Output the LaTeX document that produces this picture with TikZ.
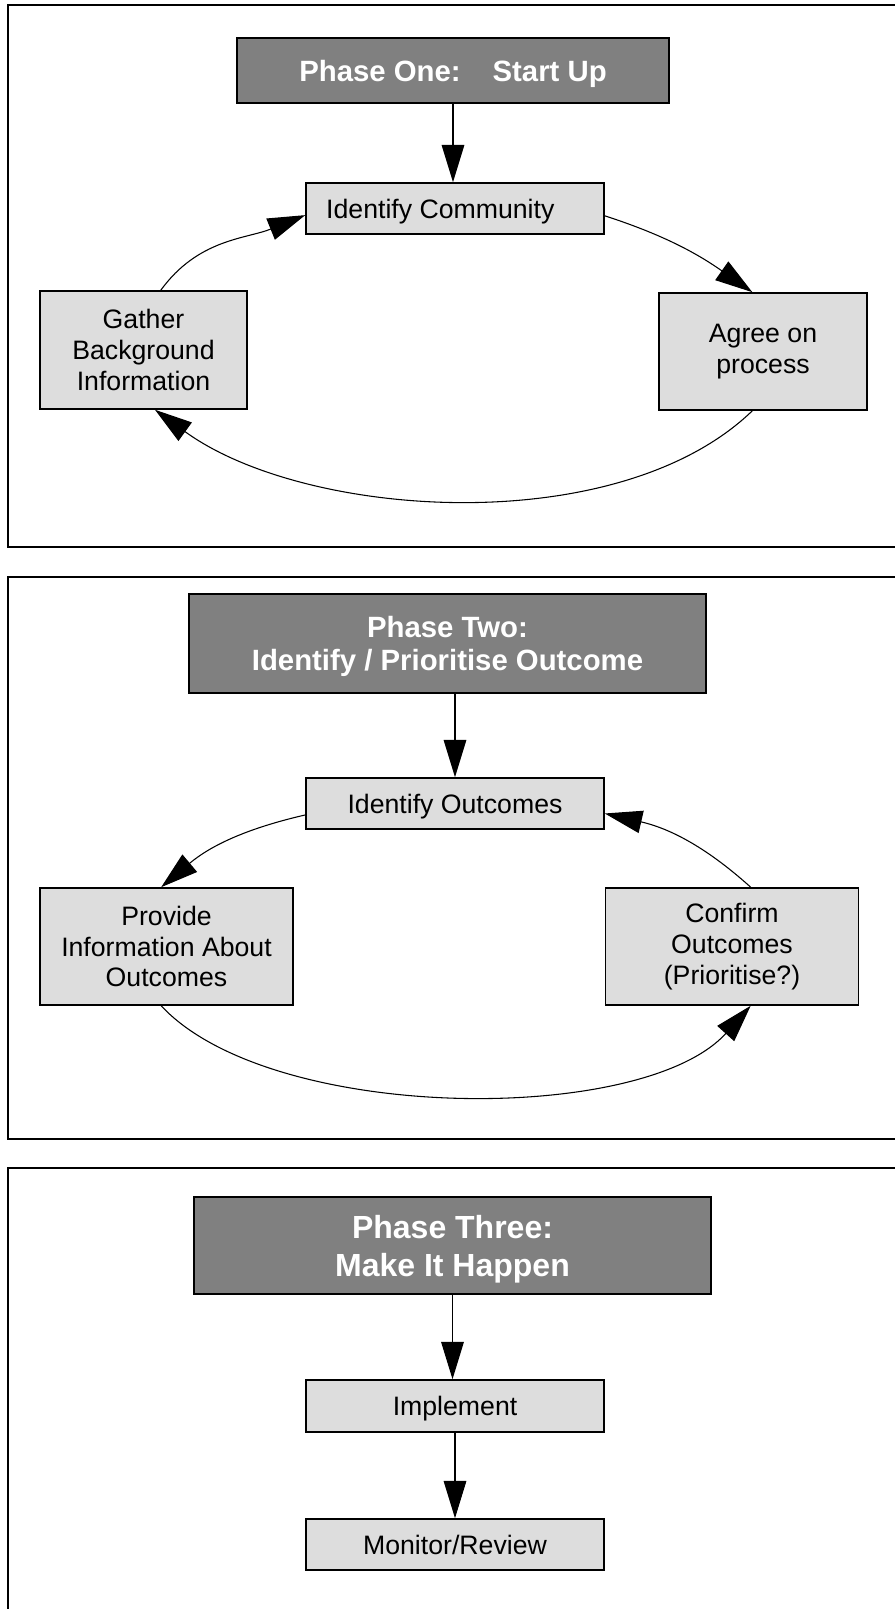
\documentclass[tikz,border=0pt]{standalone}
\usepackage{fontspec}
\setmainfont{Liberation Sans}
\usetikzlibrary{arrows.meta}
\definecolor{hdrgray}{HTML}{808080}
\definecolor{boxgray}{HTML}{DDDDDD}

\begin{document}
\begin{tikzpicture}[x=0.75pt,y=0.75pt,>={Triangle[length=28pt,width=17pt]},
  phase/.style={draw,line width=1.2pt,fill=hdrgray,text=white,inner sep=0pt,align=center,text depth=0pt,font=\fontsize{22}{24.4}\selectfont\bfseries},
  task/.style={draw,line width=1.2pt,fill=boxgray,inner sep=0pt,align=center,font=\fontsize{20}{23}\selectfont},
  oneline/.style={task,text depth=0pt},
  frame/.style={draw,line width=1.5pt},
  link/.style={->,line width=0.8pt}]
\useasboundingbox (0,0) rectangle (895,1609);
\draw[frame] (920,1604) -- (8,1604) -- (8,1062) -- (920,1062);
\draw[frame] (920,1032) -- (8,1032) -- (8,470) -- (920,470);
\draw[frame] (920,441) -- (8,441) -- (8,-20);

% phase one
\node[phase,minimum width=324pt,minimum height=48.75pt] (startup) at (453,1538.5) {Phase One:\hspace{24pt}Start Up};
\node[oneline,minimum width=223.5pt,minimum height=38.25pt] (community) at (455,1400.5) {Identify Community\hspace*{22pt}};
\node[task,minimum width=155.25pt,minimum height=88.5pt] (background) at (143.5,1259) {Gather\\Background\\Information};
\node[task,minimum width=156pt,minimum height=87.75pt] (process) at (763,1257.5) {Agree on\\process};
\draw[link] (startup.south) -- (startup.south |- community.north);
\draw[link] ([xshift=13pt]background.north) to[out=54,in=202] ([yshift=-5pt]community.west);
\draw[link] ([yshift=-5.5pt]community.east) to[out=-18,in=145] ([xshift=-8pt]process.north);
\draw[link] ([xshift=-8pt]process.south) to[out=-136,in=-36,looseness=0.8] ([xshift=8.6pt]background.south);

% phase two
\node[phase,minimum width=387.75pt,minimum height=74.25pt] (prioritise) at (447.5,965.5) {Phase Two:\\Identify / Prioritise Outcome};
\node[oneline,minimum width=223.5pt,minimum height=38.25pt] (outcomes) at (455,805.5) {Identify Outcomes};
\node[task,minimum width=189.75pt,minimum height=87.75pt] (provide) at (166.5,662.5) {Provide\\Information About\\Outcomes};
\node[task,minimum width=189.75pt,minimum height=87.75pt] (confirm) at (732,662.5) {Confirm\\Outcomes\\(Prioritise?)};
\draw[link] (outcomes.north |- prioritise.south) -- (outcomes.north);
\draw[link] ([yshift=-8.6pt]outcomes.west) to[out=193,in=40] ([xshift=-4pt]provide.north);
\draw[link] ([xshift=-4pt]provide.south) to[out=-47,in=-132,looseness=0.7] ([xshift=14pt]confirm.south);
\draw[link] ([xshift=14pt]confirm.north) to[out=138,in=-13] ([yshift=-7.5pt]outcomes.east);

% phase three
\node[phase,minimum width=387.75pt,minimum height=72.75pt,font=\fontsize{24}{28.5}\selectfont\bfseries] (happen) at (452.5,363.5) {Phase Three:\\Make It Happen};
\node[oneline,minimum width=223.5pt,minimum height=39pt] (implement) at (455,203) {Implement};
\node[oneline,minimum width=223.5pt,minimum height=38.25pt] (review) at (455,64.5) {Monitor/Review};
\draw[link] (happen.south) -- (happen.south |- implement.north);
\draw[link] (implement) -- (review);
\end{tikzpicture}
\end{document}
